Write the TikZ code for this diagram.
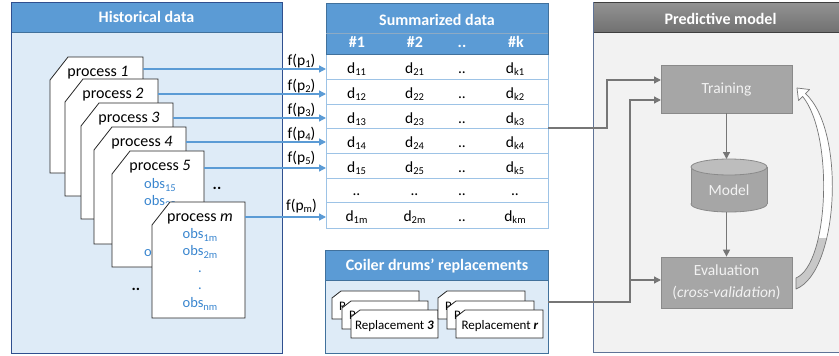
\documentclass[tikz,border=0pt]{standalone}
\usepackage{fontspec}
\setmainfont{Carlito}
\usetikzlibrary{arrows.meta}
\definecolor{hblue}{HTML}{5B9BD5}
\definecolor{lblue}{HTML}{DEEBF7}
\definecolor{navy}{HTML}{2F4F8F}
\definecolor{tline}{HTML}{9DC3E6}
\definecolor{hedge}{HTML}{41719C}
\definecolor{obsblue}{HTML}{3A86CF}
\definecolor{ablue}{HTML}{5B9BD5}
\definecolor{garr}{HTML}{767676}
\definecolor{gboxc}{HTML}{A6A6A6}
\definecolor{gtop}{HTML}{BDBDBD}
\definecolor{gborder}{HTML}{8A8A8A}
\definecolor{boxtext}{HTML}{F2F2F2}
\definecolor{pbody}{HTML}{F2F2F2}
\definecolor{ptop}{HTML}{939393}
\definecolor{pbot}{HTML}{717171}
\definecolor{pborder}{HTML}{5F7396}
\definecolor{pdark}{HTML}{3F3F3F}
\definecolor{fbgrey}{HTML}{C8C8C8}

\tikzset{
 every node/.style={inner sep=0pt, font=\fontsize{15.5}{18}\selectfont},
 pcardst/.style={fill=white, draw=black!85, line width=0.8pt},
 htitle/.style={text=white, font=\fontsize{16}{18}\selectfont\bfseries, anchor=base},
 ptxt/.style={anchor=base, font=\fontsize{16}{18}\selectfont},
 ftxt/.style={anchor=base},
 obstxt/.style={text=obsblue, font=\fontsize{14.5}{17}\selectfont, anchor=base},
 dtxt/.style={anchor=base},
 rtxt/.style={anchor=base, font=\fontsize{13}{15}\selectfont},
 bdots/.style={anchor=base, font=\fontsize{16}{18}\selectfont\bfseries},
 barrow/.style={draw=ablue, line width=1.3pt, -{Triangle[length=7pt,width=7pt]}},
 garrow/.style={draw=garr, line width=1.3pt, -{Triangle[length=7pt,width=7pt]}},
 gbox/.style={fill=gboxc, draw=gborder, line width=0.8pt, text=boxtext, minimum width=131pt, minimum height=48pt},
}

\newcommand\pcard[4]{\filldraw[pcardst] ({#1+18},#2) -- (#3,#2) -- (#3,#4) -- (#1,#4) -- (#1,{#2+23}) -- cycle;}
\newcommand\rcard[4]{\filldraw[pcardst] ({#1+9},#2) -- (#3,#2) -- (#3,#4) -- (#1,#4) -- (#1,{#2+7}) -- cycle;}
\newcommand\sbx[2][2pt]{\raisebox{-#1}{\fontsize{10.5}{12}\selectfont #2}}
\newcommand\fbshape[1]{\path[#1] (796,289) .. controls (839,272) and (846,130) .. (805.4,93.6) -- (809.5,89.5) -- (797,88) -- (798.5,100.5) -- (802.6,96.4) .. controls (834,135) and (829,264) .. (796,278) -- cycle;}

\begin{document}
\begin{tikzpicture}[x=1pt,y=-1pt]
\useasboundingbox (0,0) rectangle (839,356);
\clip (0,0) rectangle (839,356);
\fill[white] (0,0) rectangle (839,356);

% ---------------- Historical data panel
\fill[lblue] (11,2) rectangle (282,353);
\fill[hblue] (11,2) rectangle (282,32);
\draw[hedge, line width=0.6pt] (11,32) -- (282,32);
\draw[navy, line width=0.8pt] (11,2) rectangle (282,353);
\node[htitle] (htitle) at (146.5,23) {Historical data};

\pcard{50}{57}{143}{173}
\node[ptxt] (p1) at (98,76) {process \textit{1}};
\pcard{65}{79}{158}{196}
\node[ptxt] (p2) at (113,98) {process \textit{2}};
\pcard{81}{103}{173}{219}
\node[ptxt] (p3) at (129,122) {process \textit{3}};
\pcard{94}{127}{186}{244}
\node[ptxt] (p4) at (142,146) {process \textit{4}};
\pcard{112}{151}{204}{267}
\node[ptxt] (p5) at (160,170) {process \textit{5}};
\node[obstxt] (o15) at (160,188) {obs\sbx[3pt]{15}};
\node[obstxt] (o25) at (160,205) {obs\sbx[3pt]{25}};
\node[obstxt] (o5a) at (160,222) {.};
\node[obstxt] (o5b) at (160,239) {.};
\node[obstxt] (on5) at (160,256) {obs\sbx[3pt]{n5}};
\pcard{152}{202}{245}{318}
\node[ptxt] (pm) at (200,221) {process \textit{m}};
\node[obstxt] (o1m) at (200,238) {obs\sbx[3pt]{1m}};
\node[obstxt] (o2m) at (200,255) {obs\sbx[3pt]{2m}};
\node[obstxt] (oma) at (200,272) {.};
\node[obstxt] (omb) at (200,289) {.};
\node[obstxt] (onm) at (200,307) {obs\sbx[3pt]{nm}};
\node[bdots] (dotsA) at (217,189) {..};
\node[bdots] (dotsB) at (136,290) {..};

% ---------------- Summarized data table
\fill[hblue] (326,3) rectangle (548,54);
\fill[white] (326,54) rectangle (548,228);
\foreach \yy in {79,104,128,153,178,202} {\draw[tline, line width=0.8pt] (326,\yy) -- (548,\yy);}
\draw[tline, line width=0.8pt] (326,54) rectangle (548,228);
\draw[hedge, line width=0.6pt] (326,3) rectangle (548,54);
\draw[hedge!60, line width=0.5pt] (326,33) -- (548,33);
\node[htitle] (stitle) at (437,25) {Summarized data};
\node[htitle] (c1) at (357,47) {\#1};
\node[htitle] (c2) at (415,47) {\#2};
\node[htitle] (c3) at (462,47) {..};
\node[htitle] (c4) at (516,47) {\#k};
\foreach \i/\yy in {1/73,2/98,3/123,4/147,5/172} {
  \node[dtxt] (d1-\i) at (356.5,\yy) {d\sbx{1\i}};
  \node[dtxt] (d2-\i) at (414.5,\yy) {d\sbx{2\i}};
  \node[dtxt] (dd-\i) at (462,\yy) {..};
  \node[dtxt] (dk-\i) at (515,\yy) {d\sbx{k\i}};
}
\node[dtxt] (e1) at (356.5,195) {..};
\node[dtxt] (e2) at (414.5,195) {..};
\node[dtxt] (e3) at (462,195) {..};
\node[dtxt] (e4) at (515,195) {..};
\node[dtxt] (d1-m) at (356.5,221) {d\sbx{1m}};
\node[dtxt] (d2-m) at (414.5,221) {d\sbx{2m}};
\node[dtxt] (dd-m) at (462,221) {..};
\node[dtxt] (dk-m) at (515,221) {d\sbx{km}};

% ---------------- blue arrows
\coordinate (a1) at (143,69);  \coordinate (b1) at (326,69);
\coordinate (a2) at (158,94);  \coordinate (b2) at (326,94);
\coordinate (a3) at (173,118); \coordinate (b3) at (326,118);
\coordinate (a4) at (186,142); \coordinate (b4) at (326,142);
\coordinate (a5) at (204,168); \coordinate (b5) at (326,168);
\coordinate (am) at (245,217); \coordinate (bm) at (326,217);
\foreach \k in {1,2,3,4,5,m} {\draw[barrow] (a\k) -- (b\k);}
\node[ftxt] (f1) at (301.5,65) {f(p\sbx{1})};
\node[ftxt] (f2) at (301.5,90) {f(p\sbx{2})};
\node[ftxt] (f3) at (301.5,114) {f(p\sbx{3})};
\node[ftxt] (f4) at (301.5,138) {f(p\sbx{4})};
\node[ftxt] (f5) at (301.5,162) {f(p\sbx{5})};
\node[ftxt] (fm) at (301.5,210) {f(p\sbx{m})};

% ---------------- Coiler drums panel
\fill[lblue] (325,250) rectangle (548,353);
\fill[hblue] (325,250) rectangle (548,280);
\draw[hedge, line width=0.6pt] (325,280) -- (548,280);
\draw[hedge, line width=0.8pt] (325,250) rectangle (548,353);
\node[htitle] (ctitle) at (437,270) {Coiler drums’ replacements};

\rcard{332}{291}{419}{319}
\node[rtxt, anchor=base west] (r1) at (339,310) {R};
\rcard{342}{301}{428}{329}
\node[rtxt, anchor=base west] (r2) at (349,319.5) {R};
\rcard{351}{310}{438}{338}
\node[rtxt] (r3) at (394.5,329) {Replacement \textbf{\textit{3}}};
\rcard{438}{291}{525}{319}
\node[rtxt, anchor=base west] (r4) at (445,310) {R};
\rcard{447}{301}{534}{329}
\node[rtxt, anchor=base west] (r5) at (454,319.5) {R};
\rcard{456}{310}{543}{338}
\node[rtxt] (r6) at (500,329) {Replacement \textbf{\textit{r}}};

% ---------------- Predictive model panel
\fill[pbody] (593,2) rectangle (845,352);
\shade[top color=ptop, bottom color=pbot] (593,2) rectangle (845,32);
\draw[pdark, line width=1pt] (593,32) -- (845,32);
\draw[pdark, line width=0.8pt] (593,2) -- (845,2);
\draw[pborder, line width=1pt] (593,2) -- (593,352) -- (845,352);
\node[htitle] (ptitle) at (720.5,24) {Predictive model};

\node[gbox] (train) at (726.5,89) {Training};
\node[gbox, minimum height=51pt, align=center, font=\fontsize{15.5}{22}\selectfont] (eval) at (726.5,282.5) {Evaluation\\(\textit{cross-validation})};

% cylinder
\filldraw[fill=gboxc, draw=gborder, line width=0.8pt] (729,204) ellipse [x radius=38, y radius=8];
\fill[gboxc] (691,167) rectangle (767,204);
\draw[gborder, line width=0.8pt] (691,167) -- (691,204) (767,167) -- (767,204);
\filldraw[fill=gtop, draw=gborder, line width=0.8pt] (729,167) ellipse [x radius=38, y radius=8];
\node (model) at (729,190) {\textcolor{boxtext}{Model}};
\coordinate (mtop) at (726.5,159);
\coordinate (mbot) at (726.5,212);
\draw[garrow] (train.south) -- (mtop);
\draw[garrow] (mbot) -- (eval.north);

% grey connectors
\coordinate (tout) at (548,128);
\coordinate (cout) at (548,302);
\coordinate (tin1) at (661,80);
\coordinate (tin2) at (661,100);
\coordinate (ein) at (661,280);
\coordinate (jn) at (630,280);
\draw[garrow] (tout) -- ++(59,0) |- (tin1);
\draw[garr, line width=1.3pt] (cout) -| (jn);
\draw[garrow] (jn) |- (tin2);
\draw[garrow] (jn) -- (ein);

% feedback curved arrow
\fbshape{fill=white}
\begin{scope}
\clip (780,238) rectangle (845,300);
\fbshape{fill=fbgrey}
\end{scope}
\fbshape{draw=garr, line width=0.7pt, line join=round}
\end{tikzpicture}
\end{document}
